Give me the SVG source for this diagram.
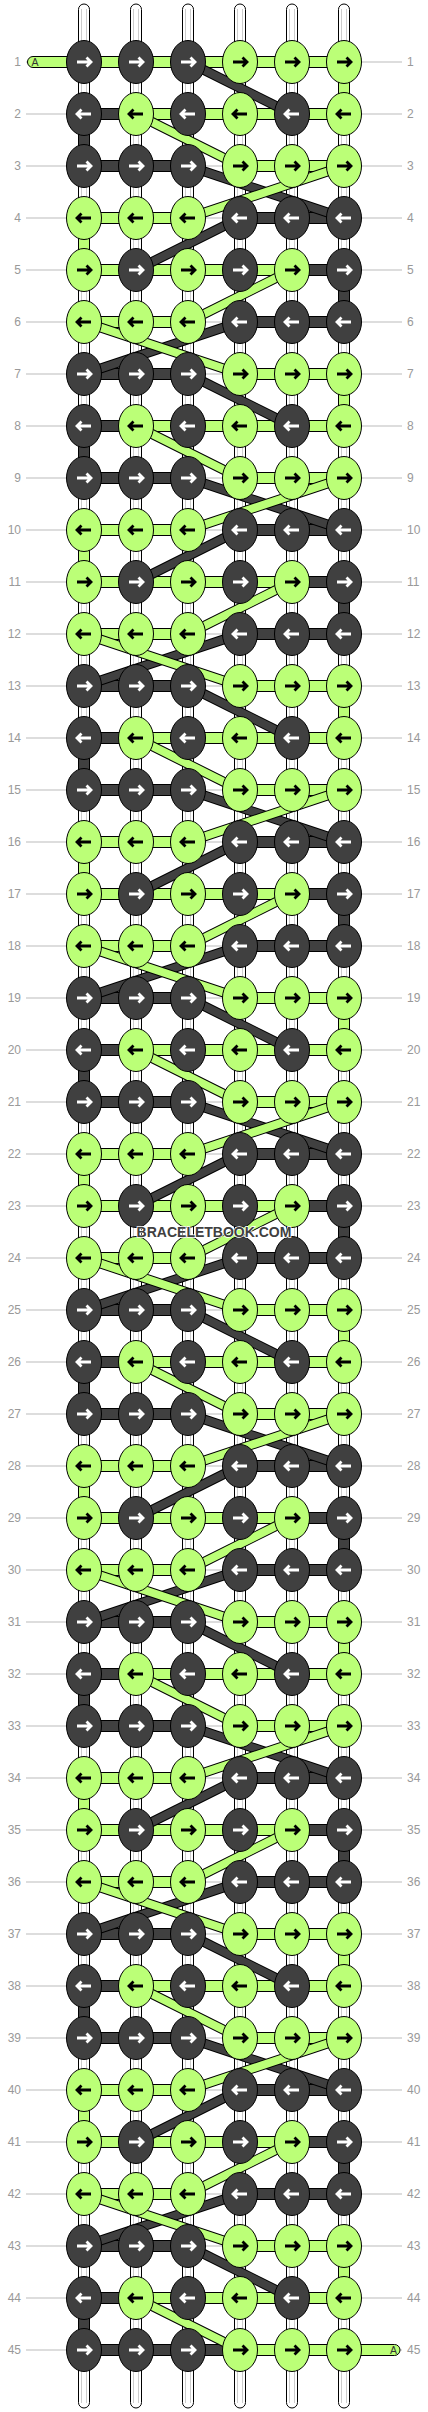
<svg xmlns="http://www.w3.org/2000/svg" xmlns:xlink="http://www.w3.org/1999/xlink" width="428" height="2412" viewBox="0 0 428 2412">
<style>
.d{fill:#404040;stroke:#000;stroke-width:1}
.g{fill:#bbff77;stroke:#000;stroke-width:1}
.aw{fill:none;stroke:#fff;stroke-width:2.8}
.ab{fill:none;stroke:#000;stroke-width:2.8}
.gl line{stroke:#bbb;stroke-width:1}
.lb{font-family:"Liberation Sans",Arial,sans-serif;font-size:12px;fill:#999}
.lr{text-anchor:end}
.bo{stroke:#000;stroke-width:10}
.bd{stroke:#404040;stroke-width:8}
.bg{stroke:#bbff77;stroke-width:8}
.tube{fill:#fff;stroke:#000;stroke-width:1}
.tl{stroke:#ccc;stroke-width:1}
.at{font-family:"Liberation Sans",Arial,sans-serif;font-size:10.5px;fill:#333}
.wm{font-family:"Liberation Sans",Arial,sans-serif;font-weight:bold;font-size:14px;fill:#404040;stroke:#fff;stroke-width:1.5;paint-order:stroke;text-anchor:middle}
</style>
<defs>
<g id="DR"><ellipse rx="17.5" ry="21.5" class="d"/><path class="aw" d="M-7 0H6M2.5-4.5 7 0 2.5 4.5"/></g>
<g id="DL"><ellipse rx="17.5" ry="21.5" class="d"/><path class="aw" d="M7 0H-6M-2.5-4.5-7 0-2.5 4.5"/></g>
<g id="GR"><ellipse rx="17.5" ry="21.5" class="g"/><path class="ab" d="M-7 0H6M2.5-4.5 7 0 2.5 4.5"/></g>
<g id="GL"><ellipse rx="17.5" ry="21.5" class="g"/><path class="ab" d="M7 0H-6M-2.5-4.5-7 0-2.5 4.5"/></g>
<g id="gA" class="gl"><line x1="26" x2="402" y1="0" y2="0"/><line x1="26" x2="402" y1="52" y2="52"/><line x1="26" x2="402" y1="104" y2="104"/></g>
<g id="gB" class="gl"><line x1="26" x2="402" y1="156" y2="156"/><line x1="26" x2="402" y1="208" y2="208"/><line x1="26" x2="402" y1="260" y2="260"/></g>
<g id="vA"><rect x="338.5" y="0" width="11" height="52" class="g"/><rect x="78.5" y="52" width="11" height="52" class="d"/></g>
<g id="vB"><rect x="78.5" y="156" width="11" height="52" class="g"/><rect x="338.5" y="208" width="11" height="52" class="d"/></g>
<g id="hA">
<rect x="84" y="-5.5" width="52" height="11" class="d"/><rect x="136" y="-5.5" width="52" height="11" class="d"/><rect x="240" y="-5.5" width="52" height="11" class="g"/><rect x="292" y="-5.5" width="52" height="11" class="g"/>
<rect x="84" y="46.5" width="52" height="11" class="d"/><rect x="136" y="46.5" width="52" height="11" class="g"/><rect x="188" y="46.5" width="52" height="11" class="g"/><rect x="240" y="46.5" width="52" height="11" class="g"/><rect x="292" y="46.5" width="52" height="11" class="g"/>
<rect x="84" y="98.5" width="52" height="11" class="d"/><rect x="136" y="98.5" width="52" height="11" class="d"/><rect x="240" y="98.5" width="52" height="11" class="g"/><rect x="292" y="98.5" width="52" height="11" class="g"/>
</g>
<g id="hB">
<rect x="84" y="150.5" width="52" height="11" class="g"/><rect x="136" y="150.5" width="52" height="11" class="g"/><rect x="240" y="150.5" width="52" height="11" class="d"/><rect x="292" y="150.5" width="52" height="11" class="d"/>
<rect x="84" y="202.5" width="52" height="11" class="g"/><rect x="136" y="202.5" width="52" height="11" class="g"/><rect x="188" y="202.5" width="52" height="11" class="g"/><rect x="240" y="202.5" width="52" height="11" class="g"/><rect x="292" y="202.5" width="52" height="11" class="d"/>
<rect x="84" y="254.5" width="52" height="11" class="g"/><rect x="136" y="254.5" width="52" height="11" class="g"/><rect x="240" y="254.5" width="52" height="11" class="d"/><rect x="292" y="254.5" width="52" height="11" class="d"/>
</g>
<g id="dA">
<line class="bo" x1="188" y1="0" x2="292" y2="52"/><line class="bd" x1="188" y1="0" x2="292" y2="52"/>
<line class="bo" x1="136" y1="52" x2="240" y2="104"/><line class="bg" x1="136" y1="52" x2="240" y2="104"/>
</g>
<g id="dB">
<line class="bo" x1="188" y1="104" x2="344" y2="156"/><line class="bd" x1="188" y1="104" x2="344" y2="156"/>
<line class="bo" x1="344" y1="104" x2="188" y2="156"/><line class="bg" x1="344" y1="104" x2="188" y2="156"/>
<line class="bo" x1="240" y1="156" x2="136" y2="208"/><line class="bd" x1="240" y1="156" x2="136" y2="208"/>
<line class="bo" x1="292" y1="208" x2="188" y2="260"/><line class="bg" x1="292" y1="208" x2="188" y2="260"/>
<line class="bo" x1="240" y1="260" x2="84" y2="312"/><line class="bd" x1="240" y1="260" x2="84" y2="312"/>
<line class="bo" x1="84" y1="260" x2="240" y2="312"/><line class="bg" x1="84" y1="260" x2="240" y2="312"/>
</g>
</defs>
<g id="guides">
<use href="#gA" y="62"/><use href="#gB" y="62"/>
<use href="#gA" y="374"/><use href="#gB" y="374"/>
<use href="#gA" y="686"/><use href="#gB" y="686"/>
<use href="#gA" y="998"/><use href="#gB" y="998"/>
<use href="#gA" y="1310"/><use href="#gB" y="1310"/>
<use href="#gA" y="1622"/><use href="#gB" y="1622"/>
<use href="#gA" y="1934"/><use href="#gB" y="1934"/>
<use href="#gA" y="2246"/>
</g>
<g id="strings">
<rect class="tube" x="78.5" y="4" width="11" height="2404" rx="5.5"/>
<rect class="tube" x="130.5" y="4" width="11" height="2404" rx="5.5"/>
<rect class="tube" x="182.5" y="4" width="11" height="2404" rx="5.5"/>
<rect class="tube" x="234.5" y="4" width="11" height="2404" rx="5.5"/>
<rect class="tube" x="286.5" y="4" width="11" height="2404" rx="5.5"/>
<rect class="tube" x="338.5" y="4" width="11" height="2404" rx="5.5"/>
<g class="tl">
<line x1="81.5" x2="81.5" y1="9" y2="2403"/><line x1="86.5" x2="86.5" y1="9" y2="2403"/>
<line x1="133.5" x2="133.5" y1="9" y2="2403"/><line x1="138.5" x2="138.5" y1="9" y2="2403"/>
<line x1="185.5" x2="185.5" y1="9" y2="2403"/><line x1="190.5" x2="190.5" y1="9" y2="2403"/>
<line x1="237.5" x2="237.5" y1="9" y2="2403"/><line x1="242.5" x2="242.5" y1="9" y2="2403"/>
<line x1="289.5" x2="289.5" y1="9" y2="2403"/><line x1="294.5" x2="294.5" y1="9" y2="2403"/>
<line x1="341.5" x2="341.5" y1="9" y2="2403"/><line x1="346.5" x2="346.5" y1="9" y2="2403"/>
</g>
</g>
<g id="connectors">
<use href="#vA" y="62"/><use href="#vB" y="62"/>
<use href="#vA" y="374"/><use href="#vB" y="374"/>
<use href="#vA" y="686"/><use href="#vB" y="686"/>
<use href="#vA" y="998"/><use href="#vB" y="998"/>
<use href="#vA" y="1310"/><use href="#vB" y="1310"/>
<use href="#vA" y="1622"/><use href="#vB" y="1622"/>
<use href="#vA" y="1934"/><use href="#vB" y="1934"/>
<use href="#vA" y="2246"/>
<use href="#hA" y="62"/><use href="#hB" y="62"/>
<use href="#hA" y="374"/><use href="#hB" y="374"/>
<use href="#hA" y="686"/><use href="#hB" y="686"/>
<use href="#hA" y="998"/><use href="#hB" y="998"/>
<use href="#hA" y="1310"/><use href="#hB" y="1310"/>
<use href="#hA" y="1622"/><use href="#hB" y="1622"/>
<use href="#hA" y="1934"/><use href="#hB" y="1934"/>
<use href="#hA" y="2246"/>
<rect x="84" y="56.5" width="52" height="11" class="g"/><rect x="136" y="56.5" width="52" height="11" class="g"/><rect x="188" y="56.5" width="52" height="11" class="g"/>
<rect x="188" y="2344.5" width="52" height="11" class="d"/>
<rect x="27.5" y="56.5" width="60" height="11" rx="5.5" class="g"/>
<rect x="340" y="2344.5" width="60" height="11" rx="5.5" class="g"/>
<text class="at" x="31.5" y="66">A</text>
<text class="at" x="390" y="2354">A</text>
<use href="#dA" y="62"/><use href="#dB" y="62"/>
<use href="#dA" y="374"/><use href="#dB" y="374"/>
<use href="#dA" y="686"/><use href="#dB" y="686"/>
<use href="#dA" y="998"/><use href="#dB" y="998"/>
<use href="#dA" y="1310"/><use href="#dB" y="1310"/>
<use href="#dA" y="1622"/><use href="#dB" y="1622"/>
<use href="#dA" y="1934"/><use href="#dB" y="1934"/>
<use href="#dA" y="2246"/>
</g>
<g id="knots">
<g transform="translate(0,62)"><g id="n1-1"><use href="#DR" x="84"/></g><g id="n1-2"><use href="#DR" x="136"/></g><g id="n1-3"><use href="#DR" x="188"/></g><g id="n1-4"><use href="#GR" x="240"/></g><g id="n1-5"><use href="#GR" x="292"/></g><g id="n1-6"><use href="#GR" x="344"/></g></g>
<g transform="translate(0,114)"><g id="n2-1"><use href="#DL" x="84"/></g><g id="n2-2"><use href="#GL" x="136"/></g><g id="n2-3"><use href="#DL" x="188"/></g><g id="n2-4"><use href="#GL" x="240"/></g><g id="n2-5"><use href="#DL" x="292"/></g><g id="n2-6"><use href="#GL" x="344"/></g></g>
<g transform="translate(0,166)"><g id="n3-1"><use href="#DR" x="84"/></g><g id="n3-2"><use href="#DR" x="136"/></g><g id="n3-3"><use href="#DR" x="188"/></g><g id="n3-4"><use href="#GR" x="240"/></g><g id="n3-5"><use href="#GR" x="292"/></g><g id="n3-6"><use href="#GR" x="344"/></g></g>
<g transform="translate(0,218)"><g id="n4-1"><use href="#GL" x="84"/></g><g id="n4-2"><use href="#GL" x="136"/></g><g id="n4-3"><use href="#GL" x="188"/></g><g id="n4-4"><use href="#DL" x="240"/></g><g id="n4-5"><use href="#DL" x="292"/></g><g id="n4-6"><use href="#DL" x="344"/></g></g>
<g transform="translate(0,270)"><g id="n5-1"><use href="#GR" x="84"/></g><g id="n5-2"><use href="#DR" x="136"/></g><g id="n5-3"><use href="#GR" x="188"/></g><g id="n5-4"><use href="#DR" x="240"/></g><g id="n5-5"><use href="#GR" x="292"/></g><g id="n5-6"><use href="#DR" x="344"/></g></g>
<g transform="translate(0,322)"><g id="n6-1"><use href="#GL" x="84"/></g><g id="n6-2"><use href="#GL" x="136"/></g><g id="n6-3"><use href="#GL" x="188"/></g><g id="n6-4"><use href="#DL" x="240"/></g><g id="n6-5"><use href="#DL" x="292"/></g><g id="n6-6"><use href="#DL" x="344"/></g></g>
<g transform="translate(0,374)"><g id="n7-1"><use href="#DR" x="84"/></g><g id="n7-2"><use href="#DR" x="136"/></g><g id="n7-3"><use href="#DR" x="188"/></g><g id="n7-4"><use href="#GR" x="240"/></g><g id="n7-5"><use href="#GR" x="292"/></g><g id="n7-6"><use href="#GR" x="344"/></g></g>
<g transform="translate(0,426)"><g id="n8-1"><use href="#DL" x="84"/></g><g id="n8-2"><use href="#GL" x="136"/></g><g id="n8-3"><use href="#DL" x="188"/></g><g id="n8-4"><use href="#GL" x="240"/></g><g id="n8-5"><use href="#DL" x="292"/></g><g id="n8-6"><use href="#GL" x="344"/></g></g>
<g transform="translate(0,478)"><g id="n9-1"><use href="#DR" x="84"/></g><g id="n9-2"><use href="#DR" x="136"/></g><g id="n9-3"><use href="#DR" x="188"/></g><g id="n9-4"><use href="#GR" x="240"/></g><g id="n9-5"><use href="#GR" x="292"/></g><g id="n9-6"><use href="#GR" x="344"/></g></g>
<g transform="translate(0,530)"><g id="n10-1"><use href="#GL" x="84"/></g><g id="n10-2"><use href="#GL" x="136"/></g><g id="n10-3"><use href="#GL" x="188"/></g><g id="n10-4"><use href="#DL" x="240"/></g><g id="n10-5"><use href="#DL" x="292"/></g><g id="n10-6"><use href="#DL" x="344"/></g></g>
<g transform="translate(0,582)"><g id="n11-1"><use href="#GR" x="84"/></g><g id="n11-2"><use href="#DR" x="136"/></g><g id="n11-3"><use href="#GR" x="188"/></g><g id="n11-4"><use href="#DR" x="240"/></g><g id="n11-5"><use href="#GR" x="292"/></g><g id="n11-6"><use href="#DR" x="344"/></g></g>
<g transform="translate(0,634)"><g id="n12-1"><use href="#GL" x="84"/></g><g id="n12-2"><use href="#GL" x="136"/></g><g id="n12-3"><use href="#GL" x="188"/></g><g id="n12-4"><use href="#DL" x="240"/></g><g id="n12-5"><use href="#DL" x="292"/></g><g id="n12-6"><use href="#DL" x="344"/></g></g>
<g transform="translate(0,686)"><g id="n13-1"><use href="#DR" x="84"/></g><g id="n13-2"><use href="#DR" x="136"/></g><g id="n13-3"><use href="#DR" x="188"/></g><g id="n13-4"><use href="#GR" x="240"/></g><g id="n13-5"><use href="#GR" x="292"/></g><g id="n13-6"><use href="#GR" x="344"/></g></g>
<g transform="translate(0,738)"><g id="n14-1"><use href="#DL" x="84"/></g><g id="n14-2"><use href="#GL" x="136"/></g><g id="n14-3"><use href="#DL" x="188"/></g><g id="n14-4"><use href="#GL" x="240"/></g><g id="n14-5"><use href="#DL" x="292"/></g><g id="n14-6"><use href="#GL" x="344"/></g></g>
<g transform="translate(0,790)"><g id="n15-1"><use href="#DR" x="84"/></g><g id="n15-2"><use href="#DR" x="136"/></g><g id="n15-3"><use href="#DR" x="188"/></g><g id="n15-4"><use href="#GR" x="240"/></g><g id="n15-5"><use href="#GR" x="292"/></g><g id="n15-6"><use href="#GR" x="344"/></g></g>
<g transform="translate(0,842)"><g id="n16-1"><use href="#GL" x="84"/></g><g id="n16-2"><use href="#GL" x="136"/></g><g id="n16-3"><use href="#GL" x="188"/></g><g id="n16-4"><use href="#DL" x="240"/></g><g id="n16-5"><use href="#DL" x="292"/></g><g id="n16-6"><use href="#DL" x="344"/></g></g>
<g transform="translate(0,894)"><g id="n17-1"><use href="#GR" x="84"/></g><g id="n17-2"><use href="#DR" x="136"/></g><g id="n17-3"><use href="#GR" x="188"/></g><g id="n17-4"><use href="#DR" x="240"/></g><g id="n17-5"><use href="#GR" x="292"/></g><g id="n17-6"><use href="#DR" x="344"/></g></g>
<g transform="translate(0,946)"><g id="n18-1"><use href="#GL" x="84"/></g><g id="n18-2"><use href="#GL" x="136"/></g><g id="n18-3"><use href="#GL" x="188"/></g><g id="n18-4"><use href="#DL" x="240"/></g><g id="n18-5"><use href="#DL" x="292"/></g><g id="n18-6"><use href="#DL" x="344"/></g></g>
<g transform="translate(0,998)"><g id="n19-1"><use href="#DR" x="84"/></g><g id="n19-2"><use href="#DR" x="136"/></g><g id="n19-3"><use href="#DR" x="188"/></g><g id="n19-4"><use href="#GR" x="240"/></g><g id="n19-5"><use href="#GR" x="292"/></g><g id="n19-6"><use href="#GR" x="344"/></g></g>
<g transform="translate(0,1050)"><g id="n20-1"><use href="#DL" x="84"/></g><g id="n20-2"><use href="#GL" x="136"/></g><g id="n20-3"><use href="#DL" x="188"/></g><g id="n20-4"><use href="#GL" x="240"/></g><g id="n20-5"><use href="#DL" x="292"/></g><g id="n20-6"><use href="#GL" x="344"/></g></g>
<g transform="translate(0,1102)"><g id="n21-1"><use href="#DR" x="84"/></g><g id="n21-2"><use href="#DR" x="136"/></g><g id="n21-3"><use href="#DR" x="188"/></g><g id="n21-4"><use href="#GR" x="240"/></g><g id="n21-5"><use href="#GR" x="292"/></g><g id="n21-6"><use href="#GR" x="344"/></g></g>
<g transform="translate(0,1154)"><g id="n22-1"><use href="#GL" x="84"/></g><g id="n22-2"><use href="#GL" x="136"/></g><g id="n22-3"><use href="#GL" x="188"/></g><g id="n22-4"><use href="#DL" x="240"/></g><g id="n22-5"><use href="#DL" x="292"/></g><g id="n22-6"><use href="#DL" x="344"/></g></g>
<g transform="translate(0,1206)"><g id="n23-1"><use href="#GR" x="84"/></g><g id="n23-2"><use href="#DR" x="136"/></g><g id="n23-3"><use href="#GR" x="188"/></g><g id="n23-4"><use href="#DR" x="240"/></g><g id="n23-5"><use href="#GR" x="292"/></g><g id="n23-6"><use href="#DR" x="344"/></g></g>
<g transform="translate(0,1258)"><g id="n24-1"><use href="#GL" x="84"/></g><g id="n24-2"><use href="#GL" x="136"/></g><g id="n24-3"><use href="#GL" x="188"/></g><g id="n24-4"><use href="#DL" x="240"/></g><g id="n24-5"><use href="#DL" x="292"/></g><g id="n24-6"><use href="#DL" x="344"/></g></g>
<g transform="translate(0,1310)"><g id="n25-1"><use href="#DR" x="84"/></g><g id="n25-2"><use href="#DR" x="136"/></g><g id="n25-3"><use href="#DR" x="188"/></g><g id="n25-4"><use href="#GR" x="240"/></g><g id="n25-5"><use href="#GR" x="292"/></g><g id="n25-6"><use href="#GR" x="344"/></g></g>
<g transform="translate(0,1362)"><g id="n26-1"><use href="#DL" x="84"/></g><g id="n26-2"><use href="#GL" x="136"/></g><g id="n26-3"><use href="#DL" x="188"/></g><g id="n26-4"><use href="#GL" x="240"/></g><g id="n26-5"><use href="#DL" x="292"/></g><g id="n26-6"><use href="#GL" x="344"/></g></g>
<g transform="translate(0,1414)"><g id="n27-1"><use href="#DR" x="84"/></g><g id="n27-2"><use href="#DR" x="136"/></g><g id="n27-3"><use href="#DR" x="188"/></g><g id="n27-4"><use href="#GR" x="240"/></g><g id="n27-5"><use href="#GR" x="292"/></g><g id="n27-6"><use href="#GR" x="344"/></g></g>
<g transform="translate(0,1466)"><g id="n28-1"><use href="#GL" x="84"/></g><g id="n28-2"><use href="#GL" x="136"/></g><g id="n28-3"><use href="#GL" x="188"/></g><g id="n28-4"><use href="#DL" x="240"/></g><g id="n28-5"><use href="#DL" x="292"/></g><g id="n28-6"><use href="#DL" x="344"/></g></g>
<g transform="translate(0,1518)"><g id="n29-1"><use href="#GR" x="84"/></g><g id="n29-2"><use href="#DR" x="136"/></g><g id="n29-3"><use href="#GR" x="188"/></g><g id="n29-4"><use href="#DR" x="240"/></g><g id="n29-5"><use href="#GR" x="292"/></g><g id="n29-6"><use href="#DR" x="344"/></g></g>
<g transform="translate(0,1570)"><g id="n30-1"><use href="#GL" x="84"/></g><g id="n30-2"><use href="#GL" x="136"/></g><g id="n30-3"><use href="#GL" x="188"/></g><g id="n30-4"><use href="#DL" x="240"/></g><g id="n30-5"><use href="#DL" x="292"/></g><g id="n30-6"><use href="#DL" x="344"/></g></g>
<g transform="translate(0,1622)"><g id="n31-1"><use href="#DR" x="84"/></g><g id="n31-2"><use href="#DR" x="136"/></g><g id="n31-3"><use href="#DR" x="188"/></g><g id="n31-4"><use href="#GR" x="240"/></g><g id="n31-5"><use href="#GR" x="292"/></g><g id="n31-6"><use href="#GR" x="344"/></g></g>
<g transform="translate(0,1674)"><g id="n32-1"><use href="#DL" x="84"/></g><g id="n32-2"><use href="#GL" x="136"/></g><g id="n32-3"><use href="#DL" x="188"/></g><g id="n32-4"><use href="#GL" x="240"/></g><g id="n32-5"><use href="#DL" x="292"/></g><g id="n32-6"><use href="#GL" x="344"/></g></g>
<g transform="translate(0,1726)"><g id="n33-1"><use href="#DR" x="84"/></g><g id="n33-2"><use href="#DR" x="136"/></g><g id="n33-3"><use href="#DR" x="188"/></g><g id="n33-4"><use href="#GR" x="240"/></g><g id="n33-5"><use href="#GR" x="292"/></g><g id="n33-6"><use href="#GR" x="344"/></g></g>
<g transform="translate(0,1778)"><g id="n34-1"><use href="#GL" x="84"/></g><g id="n34-2"><use href="#GL" x="136"/></g><g id="n34-3"><use href="#GL" x="188"/></g><g id="n34-4"><use href="#DL" x="240"/></g><g id="n34-5"><use href="#DL" x="292"/></g><g id="n34-6"><use href="#DL" x="344"/></g></g>
<g transform="translate(0,1830)"><g id="n35-1"><use href="#GR" x="84"/></g><g id="n35-2"><use href="#DR" x="136"/></g><g id="n35-3"><use href="#GR" x="188"/></g><g id="n35-4"><use href="#DR" x="240"/></g><g id="n35-5"><use href="#GR" x="292"/></g><g id="n35-6"><use href="#DR" x="344"/></g></g>
<g transform="translate(0,1882)"><g id="n36-1"><use href="#GL" x="84"/></g><g id="n36-2"><use href="#GL" x="136"/></g><g id="n36-3"><use href="#GL" x="188"/></g><g id="n36-4"><use href="#DL" x="240"/></g><g id="n36-5"><use href="#DL" x="292"/></g><g id="n36-6"><use href="#DL" x="344"/></g></g>
<g transform="translate(0,1934)"><g id="n37-1"><use href="#DR" x="84"/></g><g id="n37-2"><use href="#DR" x="136"/></g><g id="n37-3"><use href="#DR" x="188"/></g><g id="n37-4"><use href="#GR" x="240"/></g><g id="n37-5"><use href="#GR" x="292"/></g><g id="n37-6"><use href="#GR" x="344"/></g></g>
<g transform="translate(0,1986)"><g id="n38-1"><use href="#DL" x="84"/></g><g id="n38-2"><use href="#GL" x="136"/></g><g id="n38-3"><use href="#DL" x="188"/></g><g id="n38-4"><use href="#GL" x="240"/></g><g id="n38-5"><use href="#DL" x="292"/></g><g id="n38-6"><use href="#GL" x="344"/></g></g>
<g transform="translate(0,2038)"><g id="n39-1"><use href="#DR" x="84"/></g><g id="n39-2"><use href="#DR" x="136"/></g><g id="n39-3"><use href="#DR" x="188"/></g><g id="n39-4"><use href="#GR" x="240"/></g><g id="n39-5"><use href="#GR" x="292"/></g><g id="n39-6"><use href="#GR" x="344"/></g></g>
<g transform="translate(0,2090)"><g id="n40-1"><use href="#GL" x="84"/></g><g id="n40-2"><use href="#GL" x="136"/></g><g id="n40-3"><use href="#GL" x="188"/></g><g id="n40-4"><use href="#DL" x="240"/></g><g id="n40-5"><use href="#DL" x="292"/></g><g id="n40-6"><use href="#DL" x="344"/></g></g>
<g transform="translate(0,2142)"><g id="n41-1"><use href="#GR" x="84"/></g><g id="n41-2"><use href="#DR" x="136"/></g><g id="n41-3"><use href="#GR" x="188"/></g><g id="n41-4"><use href="#DR" x="240"/></g><g id="n41-5"><use href="#GR" x="292"/></g><g id="n41-6"><use href="#DR" x="344"/></g></g>
<g transform="translate(0,2194)"><g id="n42-1"><use href="#GL" x="84"/></g><g id="n42-2"><use href="#GL" x="136"/></g><g id="n42-3"><use href="#GL" x="188"/></g><g id="n42-4"><use href="#DL" x="240"/></g><g id="n42-5"><use href="#DL" x="292"/></g><g id="n42-6"><use href="#DL" x="344"/></g></g>
<g transform="translate(0,2246)"><g id="n43-1"><use href="#DR" x="84"/></g><g id="n43-2"><use href="#DR" x="136"/></g><g id="n43-3"><use href="#DR" x="188"/></g><g id="n43-4"><use href="#GR" x="240"/></g><g id="n43-5"><use href="#GR" x="292"/></g><g id="n43-6"><use href="#GR" x="344"/></g></g>
<g transform="translate(0,2298)"><g id="n44-1"><use href="#DL" x="84"/></g><g id="n44-2"><use href="#GL" x="136"/></g><g id="n44-3"><use href="#DL" x="188"/></g><g id="n44-4"><use href="#GL" x="240"/></g><g id="n44-5"><use href="#DL" x="292"/></g><g id="n44-6"><use href="#GL" x="344"/></g></g>
<g transform="translate(0,2350)"><g id="n45-1"><use href="#DR" x="84"/></g><g id="n45-2"><use href="#DR" x="136"/></g><g id="n45-3"><use href="#DR" x="188"/></g><g id="n45-4"><use href="#GR" x="240"/></g><g id="n45-5"><use href="#GR" x="292"/></g><g id="n45-6"><use href="#GR" x="344"/></g></g>
</g>
<g id="labels" class="lb">
<g class="lr">
<text x="21" y="66">1</text><text x="21" y="118">2</text><text x="21" y="170">3</text><text x="21" y="222">4</text><text x="21" y="274">5</text><text x="21" y="326">6</text><text x="21" y="378">7</text><text x="21" y="430">8</text><text x="21" y="482">9</text><text x="21" y="534">10</text><text x="21" y="586">11</text><text x="21" y="638">12</text><text x="21" y="690">13</text><text x="21" y="742">14</text><text x="21" y="794">15</text><text x="21" y="846">16</text><text x="21" y="898">17</text><text x="21" y="950">18</text><text x="21" y="1002">19</text><text x="21" y="1054">20</text><text x="21" y="1106">21</text><text x="21" y="1158">22</text><text x="21" y="1210">23</text><text x="21" y="1262">24</text><text x="21" y="1314">25</text><text x="21" y="1366">26</text><text x="21" y="1418">27</text><text x="21" y="1470">28</text><text x="21" y="1522">29</text><text x="21" y="1574">30</text><text x="21" y="1626">31</text><text x="21" y="1678">32</text><text x="21" y="1730">33</text><text x="21" y="1782">34</text><text x="21" y="1834">35</text><text x="21" y="1886">36</text><text x="21" y="1938">37</text><text x="21" y="1990">38</text><text x="21" y="2042">39</text><text x="21" y="2094">40</text><text x="21" y="2146">41</text><text x="21" y="2198">42</text><text x="21" y="2250">43</text><text x="21" y="2302">44</text><text x="21" y="2354">45</text>
</g>
<text x="407" y="66">1</text><text x="407" y="118">2</text><text x="407" y="170">3</text><text x="407" y="222">4</text><text x="407" y="274">5</text><text x="407" y="326">6</text><text x="407" y="378">7</text><text x="407" y="430">8</text><text x="407" y="482">9</text><text x="407" y="534">10</text><text x="407" y="586">11</text><text x="407" y="638">12</text><text x="407" y="690">13</text><text x="407" y="742">14</text><text x="407" y="794">15</text><text x="407" y="846">16</text><text x="407" y="898">17</text><text x="407" y="950">18</text><text x="407" y="1002">19</text><text x="407" y="1054">20</text><text x="407" y="1106">21</text><text x="407" y="1158">22</text><text x="407" y="1210">23</text><text x="407" y="1262">24</text><text x="407" y="1314">25</text><text x="407" y="1366">26</text><text x="407" y="1418">27</text><text x="407" y="1470">28</text><text x="407" y="1522">29</text><text x="407" y="1574">30</text><text x="407" y="1626">31</text><text x="407" y="1678">32</text><text x="407" y="1730">33</text><text x="407" y="1782">34</text><text x="407" y="1834">35</text><text x="407" y="1886">36</text><text x="407" y="1938">37</text><text x="407" y="1990">38</text><text x="407" y="2042">39</text><text x="407" y="2094">40</text><text x="407" y="2146">41</text><text x="407" y="2198">42</text><text x="407" y="2250">43</text><text x="407" y="2302">44</text><text x="407" y="2354">45</text>
</g>
<text class="wm" x="214" y="1237">BRACELETBOOK.COM</text>
</svg>
